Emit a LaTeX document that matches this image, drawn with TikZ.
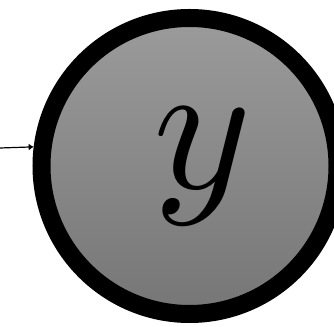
\documentclass[tikz,border=0pt]{standalone}
\usepackage{graphicx}
\usetikzlibrary{arrows.meta}
\begin{document}
\begin{tikzpicture}[x=1pt,y=1pt,
  varnode/.style={circle, draw=black, line width=18pt, minimum size=296pt, inner sep=0pt,
    top color={rgb,255:red,155;green,155;blue,155}, bottom color={rgb,255:red,118;green,118;blue,118}},
  edge/.style={line width=1.2pt, -{Latex[length=5pt,width=7pt]}}]
\useasboundingbox (0,0) rectangle (334,326);
\node[varnode] (y) at (189.5,160) {};
\node[inner sep=0pt] (lab) at ([xshift=13pt]y.center) {\scalebox{18.7}{$y$}};
\coordinate (s) at (0,178);
\draw[edge] (s) -- (y.173.4);
\end{tikzpicture}
\end{document}
